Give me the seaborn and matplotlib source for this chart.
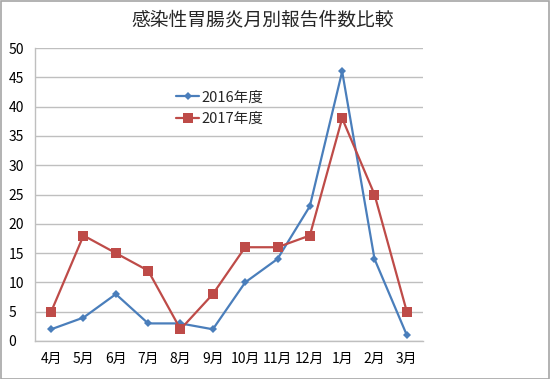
import pandas as pd
import matplotlib.pyplot as plt
import seaborn as sns

months = ['4月', '5月', '6月', '7月', '8月', '9月', '10月', '11月', '12月', '1月', '2月', '3月']
cases_2016 = [2, 4, 8, 3, 3, 2, 10, 14, 23, 46, 14, 1]
cases_2017 = [5, 18, 15, 12, 2, 8, 16, 16, 18, 38, 25, 5]
series_names = ['2016年度', '2017年度']

df = pd.DataFrame({
    'month': months * 2,
    'cases': cases_2016 + cases_2017,
    'year': [series_names[0]] * len(months) + [series_names[1]] * len(months),
})

sns.set_style('white')
plt.rcParams['font.family'] = ['Noto Sans CJK JP', 'DejaVu Sans']

fig = plt.figure(figsize=(5.5, 3.79), dpi=100)
ax = fig.add_axes([35 / 550, 1 - 341 / 379, 388 / 550, 293 / 379])

sns.lineplot(
    data=df, x='month', y='cases', hue='year', style='year',
    palette={series_names[0]: '#4A7EBB', series_names[1]: '#BE4B48'},
    markers={series_names[0]: 'D', series_names[1]: 's'},
    dashes=False, sort=False, linewidth=1.6, ax=ax,
    markeredgewidth=0,
)
for line in ax.lines:
    if line.get_marker() == 'D':
        line.set_markersize(4.5)
    else:
        line.set_markersize(6.5)

ax.set_xlim(-0.5, 11.5)
ax.set_ylim(0, 50)
ax.set_yticks(range(0, 51, 5))
ax.yaxis.grid(True, color='#BFBFBF', linewidth=1)
ax.set_axisbelow(True)
ax.set_xlabel('')
ax.set_ylabel('')
for side in ['top', 'right']:
    ax.spines[side].set_visible(False)
for side in ['left', 'bottom']:
    ax.spines[side].set_color('#BFBFBF')
    ax.spines[side].set_linewidth(1)
ax.tick_params(axis='both', length=0, labelsize=10, colors='#000000')
ax.tick_params(axis='x', pad=8)
ax.tick_params(axis='y', pad=19)
for lbl in ax.get_yticklabels():
    lbl.set_horizontalalignment('left')

leg = ax.legend(
    loc='upper left', bbox_to_anchor=(0.33, 0.90), frameon=False,
    fontsize=10.5, handlelength=1.6, handletextpad=0.1, labelspacing=0.5,
)

fig.text(263 / 550, 1 - 20 / 379, '感染性胃腸炎月別報告件数比較', ha='center', va='center', fontsize=13.5)

border = plt.Rectangle((0.001, 0.001), 0.997, 0.997, transform=fig.transFigure,
                       fill=False, edgecolor='#A6A6A6', linewidth=1.2)
fig.patches.append(border)

plt.savefig('out.png', dpi=100)
